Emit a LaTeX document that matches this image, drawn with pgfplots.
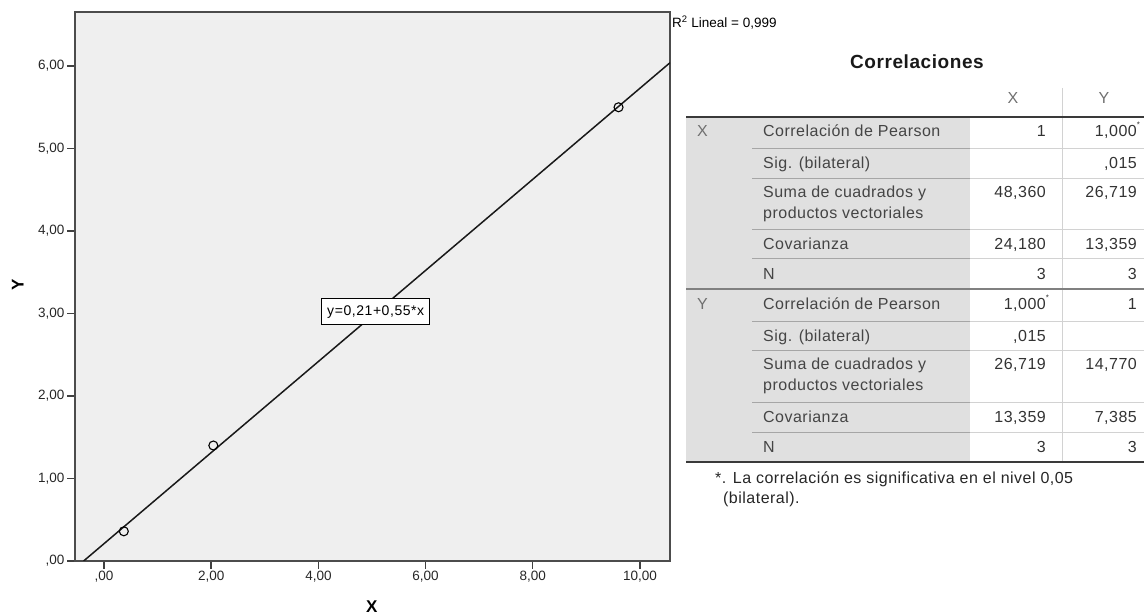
\documentclass[border=0pt]{standalone}
\usepackage{pgfplots}
\pgfplotsset{compat=1.18}
\usepackage{fontspec}
\setmainfont{Liberation Sans}
\newfontfamily\tabfont[LetterSpace=3]{Liberation Sans}
\newfontfamily\eqfont[LetterSpace=4]{Liberation Sans}
\definecolor{plotbg}{HTML}{EFEFEF}
\definecolor{tabgray}{HTML}{E0E0E0}
\definecolor{sepdark}{HTML}{A6A6A6}
\definecolor{seplight}{HTML}{D2D2D2}
\definecolor{rulecol}{HTML}{3A3A3A}
\definecolor{lblcol}{HTML}{454545}
\definecolor{valcol}{HTML}{333333}
\definecolor{hdrcol}{HTML}{707070}
\begin{document}
\begin{tikzpicture}
\useasboundingbox (0,0) rectangle (1144pt,615pt);
\begin{axis}[
  at={(75pt,54pt)}, anchor=south west,
  scale only axis, width=595pt, height=549pt,
  xmin=-0.541, xmax=10.56, ymin=0, ymax=6.655,
  axis background/.style={fill=plotbg},
  axis line style={draw=black!70, line width=1.4pt},
  xtick={0,2,4,6,8,10},
  xticklabels={{,00},{2,00},{4,00},{6,00},{8,00},{10,00}},
  ytick={0,1,2,3,4,5,6},
  yticklabels={{,00},{1,00},{2,00},{3,00},{4,00},{5,00},{6,00}},
  tick align=outside, tick pos=left, major tick length=8pt,
  tick style={black!75, line width=1.4pt},
  ticklabel style={font=\fontsize{13.5}{15}\selectfont, text=black!85},
  xticklabel style={yshift=1pt},
  yticklabel style={xshift=1pt},
  xlabel={\textbf{X}}, ylabel={\textbf{Y}},
  label style={font=\fontsize{17}{19}\selectfont},
  xlabel style={at={(axis description cs:0.499,-0.084)}, anchor=center},
  ylabel style={at={(axis description cs:-0.096,0.503)}, anchor=center},
]
\addplot[black!90, line width=1.5pt] coordinates {(-0.38,0) (10.56,6.04)};
\addplot[only marks, mark=o, mark size=4.5pt, black, mark options={line width=1.1pt}] coordinates {(0.37,0.36) (2.04,1.40) (9.60,5.50)};
\node[fill=white, draw=black, line width=1pt, inner sep=2pt, font=\eqfont\fontsize{14}{16}\selectfont, minimum height=26pt, minimum width=108pt] at (axis cs:5.07,3.02) {y=0,21+0,55*x};
\end{axis}
\begin{scope}[shift={(0pt,615pt)}, x=1pt, y=-1pt]
  % R2 text
  \node[anchor=mid west, inner sep=0pt, font=\fontsize{13.5}{15}\selectfont] at (672,25) {R\textsuperscript{2} Lineal = 0,999};
  % title
  \node[anchor=mid, inner sep=0pt, font=\tabfont\fontsize{19}{21}\selectfont\bfseries, text=black!90] at (917,66) {Correlaciones};
  % gray area
  \fill[tabgray] (686,117) rectangle (970,462);
  % vertical light line
  \draw[seplight, line width=1pt] (1062,88) -- (1062,462);
  % row separators
  \foreach \yy in {149,179,230,259,322,351,403,433} {
    \draw[sepdark, line width=1pt] (752,\yy) -- (970,\yy);
    \draw[seplight, line width=1pt] (970,\yy) -- (1144,\yy);
  }
  \draw[black!50, line width=1.2pt] (686,289) -- (1144,289);
  \draw[rulecol, line width=2pt] (686,117) -- (1144,117);
  \draw[rulecol, line width=2pt] (686,462) -- (1144,462);
  % headers
  \begin{scope}[every node/.style={inner sep=0pt, font=\tabfont\fontsize{16}{18}\selectfont}]
  \node[anchor=mid, text=hdrcol] at (1013,101) {X};
  \node[anchor=mid, text=hdrcol] at (1104,101) {Y};
  \node[anchor=mid west, text=hdrcol] at (697,134) {X};
  \node[anchor=mid west, text=hdrcol] at (697,307) {Y};
  % row labels
  \foreach \yy/\t in {134/{Correlación de Pearson},166/{Sig. (bilateral)},195/{Suma de cuadrados y},216/{productos vectoriales},247/{Covarianza},277/{N},
                      307/{Correlación de Pearson},339/{Sig. (bilateral)},367/{Suma de cuadrados y},388/{productos vectoriales},420/{Covarianza},450/{N}} {
    \node[anchor=mid west, text=lblcol] at (763,\yy) {\t};
  }
  % values X column
  \foreach \yy/\t in {134/{1},195/{48,360},247/{24,180},277/{3},307/{1,000\rlap{\raisebox{0.55em}{\fontsize{8}{8}\selectfont *}}},339/{,015},367/{26,719},420/{13,359},450/{3}} {
    \node[anchor=mid east, text=valcol] at (1046,\yy) {\t};
  }
  % values Y column
  \foreach \yy/\t in {134/{1,000\rlap{\raisebox{0.55em}{\fontsize{8}{8}\selectfont *}}},166/{,015},195/{26,719},247/{13,359},277/{3},307/{1},367/{14,770},420/{7,385},450/{3}} {
    \node[anchor=mid east, text=valcol] at (1137,\yy) {\t};
  }
  % footnote
  \node[anchor=mid west, text=black!85] at (715,481) {*. La correlación es significativa en el nivel 0,05};
  \node[anchor=mid west, text=black!85] at (723,501) {(bilateral).};
  \end{scope}
\end{scope}
\end{tikzpicture}
\end{document}
